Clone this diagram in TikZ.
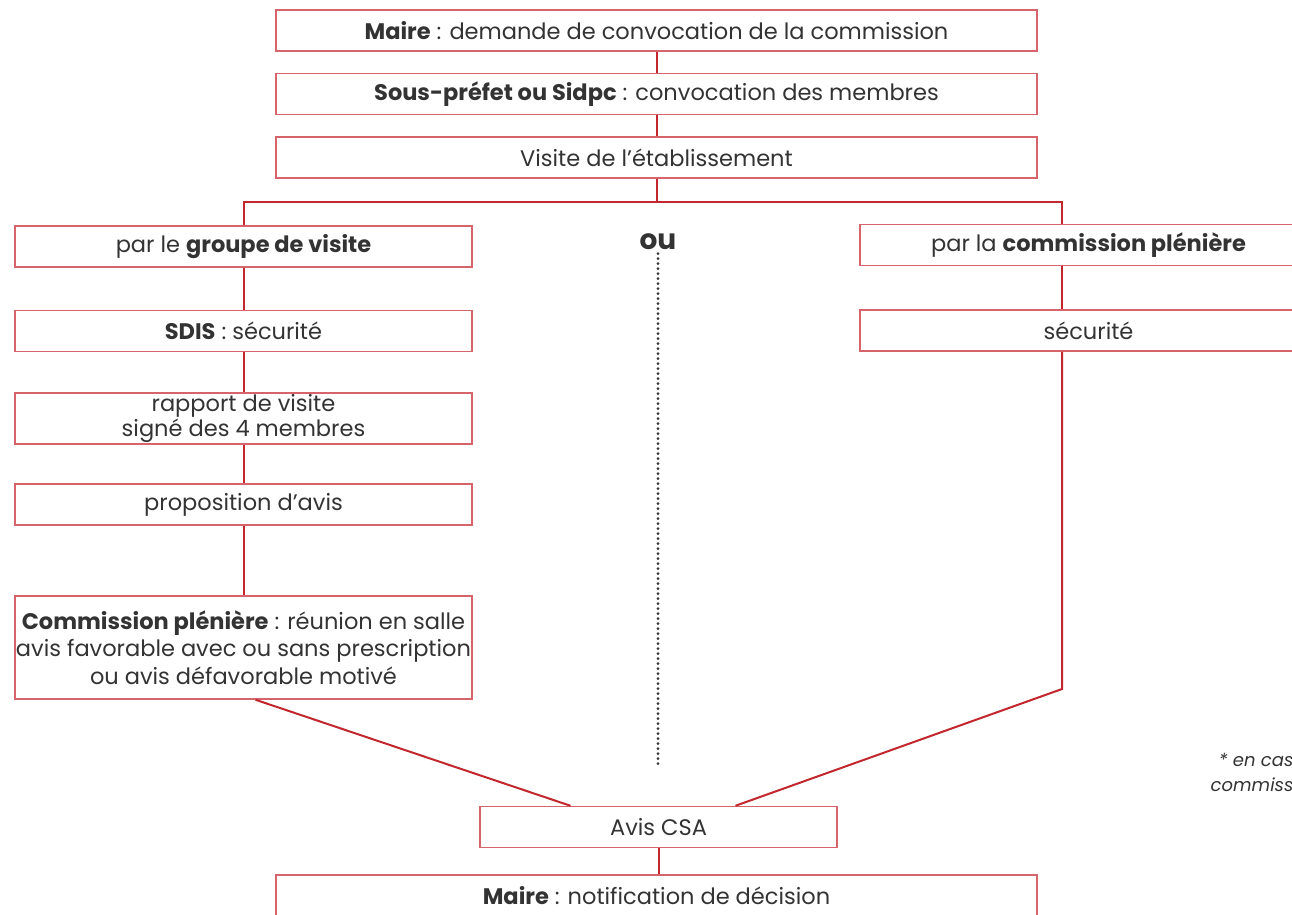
\documentclass[tikz,border=0pt]{standalone}
\usepackage{fontspec}
\setmainfont{Poppins}
\usepackage{xcolor}
\definecolor{boxred}{HTML}{D7636B}
\definecolor{linkred}{HTML}{C1272D}
\definecolor{ink}{HTML}{333333}

\begin{document}
\begin{tikzpicture}[x=1pt,y=-1pt,
	box/.style={rectangle, draw=boxred, line width=1.5pt, text=ink, inner sep=0pt, align=center,
		minimum width=457pt, minimum height=41pt, font=\fontsize{22.5}{26}\selectfont},
	wide/.style={box, minimum width=761pt},
	link/.style={draw=linkred, line width=2pt}]
\useasboundingbox (0,0) rectangle (1292,914);
\clip (0,0) rectangle (1292,914);
\node [wide] (maire) at (656.5,30.5) {\textbf{Maire} : demande de convocation de la commission};
\node [wide] (convoc) at (656.5,94) {\textbf{Sous-préfet ou Sidpc} : convocation des membres};
\node [wide] (visite) at (656.5,157.5) {Visite de l’établissement};
\node [box] (groupe) at (243.5,246.5) {par le \textbf{groupe de visite}};
\node [box] (pleniere) at (1088.5,245) {par la \textbf{commission plénière}};
\node [text=ink, font=\fontsize{28}{30}\selectfont\bfseries] (ou) at (658,242) {ou};
\node [box] (sdis) at (243.5,331) {\textbf{SDIS} : sécurité};
\node [box] (secu) at (1088.5,330.5) {sécurité};
\node [box, minimum height=51pt, font=\fontsize{22.5}{25}\selectfont] (rapport) at (243.5,418.5) {rapport de visite\\signé des 4 membres};
\node [box] (avis) at (243.5,504.5) {proposition d’avis};
\node [box, minimum height=103pt, font=\fontsize{22.5}{27.5}\selectfont] (commission) at (243.5,647.5)
	{\textbf{Commission plénière} : réunion en salle\\avis favorable avec ou sans prescription\\ou avis défavorable motivé};
\node [box, minimum width=357pt] (csa) at (658.5,827) {Avis CSA};
\node [wide] (notif) at (656.5,895.5) {\textbf{Maire} : notification de décision};
% note on the right edge
\node [anchor=base east, text=ink, font=\fontsize{18}{20}\selectfont\itshape] (note1) at (1297,766) {* en cas};
\node [anchor=base east, text=ink, font=\fontsize{18}{20}\selectfont\itshape] (note2) at (1297,791) {commiss};

\coordinate (fork) at (656.5,202);
\coordinate (rcol) at (1062,0);
\coordinate (rbend) at (1062,689);
\coordinate (dotend) at (658,765);

\draw [link] (maire) -- (convoc);
\draw [link] (convoc) -- (visite);
\draw [link] (visite) -- (fork);
\draw [link] (fork) -| (groupe.north);
\draw [link] (fork) -| (pleniere.north -| rcol);
\draw [link] (groupe) -- (sdis);
\draw [link] (sdis) -- (rapport);
\draw [link] (rapport) -- (avis);
\draw [link] (avis) -- (commission);
\draw [link] (pleniere.south -| rcol) -- (secu.north -| rcol);
\draw [link] (secu.south -| rcol) -- (rbend) -- ([xshift=77pt]csa.north);
\draw [link] ([xshift=12pt]commission.south) -- ([xshift=-88pt]csa.north);
\draw [link] (csa.south) -- (csa.south |- notif.north);
\draw [ink, line width=3pt, line cap=round, dash pattern=on 0pt off 5pt] (ou.south) -- (dotend);
\end{tikzpicture}
\end{document}
